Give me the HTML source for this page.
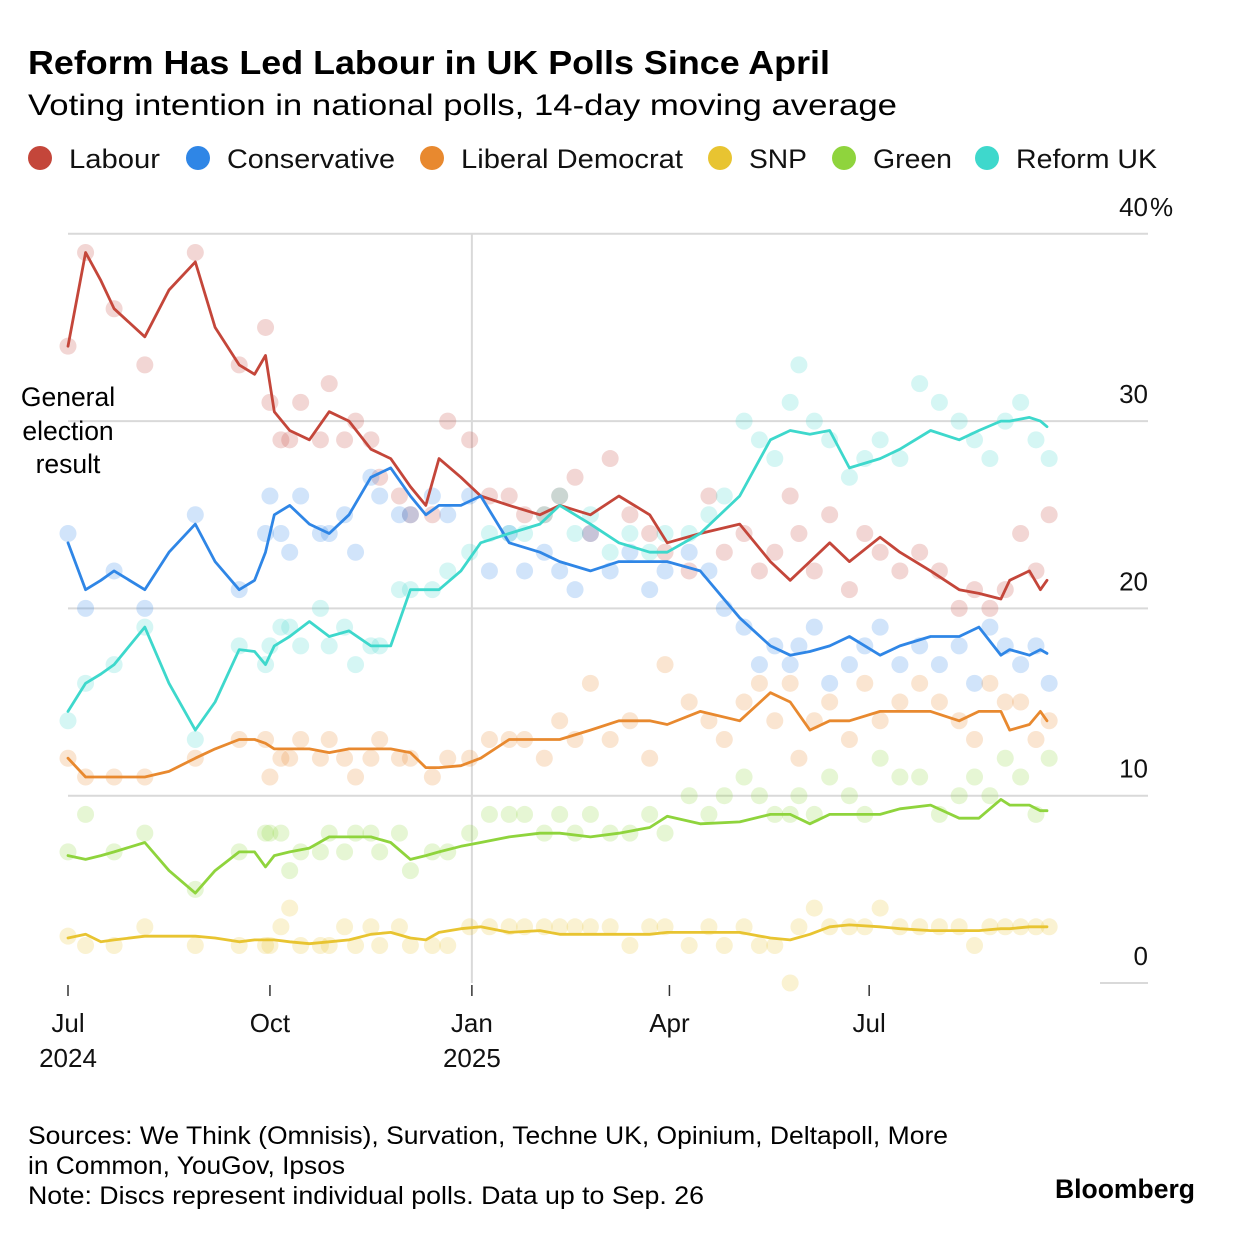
<!DOCTYPE html>
<html><head><meta charset="utf-8"><style>
body{margin:0;background:#fff;}
svg{display:block;font-family:"Liberation Sans",sans-serif;}
</style></head><body>
<svg id="c" width="1235" height="1234" viewBox="0 0 1235 1234">
<text x="28" y="74" font-size="33" font-weight="bold" fill="#000" textLength="802" lengthAdjust="spacingAndGlyphs">Reform Has Led Labour in UK Polls Since April</text>
<text x="28" y="115" font-size="30" fill="#000" textLength="869" lengthAdjust="spacingAndGlyphs">Voting intention in national polls, 14-day moving average</text>
<g id="legend"></g>
<g id="grid"></g>
<g id="dots"></g>
<g id="lines"></g>
<g id="axes"></g>
<text font-size="26.5" text-anchor="middle" fill="#000"><tspan x="68" y="406">General</tspan><tspan x="68" y="440">election</tspan><tspan x="68" y="473">result</tspan></text>
<text font-size="25" fill="#000"><tspan x="28" y="1144" textLength="920" lengthAdjust="spacingAndGlyphs">Sources: We Think (Omnisis), Survation, Techne UK, Opinium, Deltapoll, More</tspan><tspan x="28" y="1174" textLength="317" lengthAdjust="spacingAndGlyphs">in Common, YouGov, Ipsos</tspan><tspan x="28" y="1204" textLength="676" lengthAdjust="spacingAndGlyphs">Note: Discs represent individual polls. Data up to Sep. 26</tspan></text>
<text x="1055" y="1198" font-size="27" font-weight="bold" fill="#000" textLength="140" lengthAdjust="spacingAndGlyphs">Bloomberg</text>
</svg>
<script>
const seriesNames=["Labour","Conservative","Liberal Democrat","SNP","Green","Reform UK"];
const lineDays=[0,8,15,21,35,46,58,67,78,85,90,94,101,110,119,128,138,147,156,163,169,179,188,201,215,224,238,251,265,273,288,306,320,329,338,347,356,370,379,393,406,415,425,429,438,443,446];
const labourLine=[34,39,37.5,36,34.5,37,38.5,35,33,32.5,33.5,30.5,29.5,29,30.5,30,28.5,28,26.5,25.5,28,27,26,25.5,25,25.5,25,26,25,23.5,24,24.5,22.5,21.5,22.5,23.5,22.5,23.8,23,22,21,20.8,20.5,21.5,22,21,21.5];
const conLine=[23.5,21,21.5,22,21,23,24.5,22.5,21,21.5,23,25,25.5,24.5,24,25,27,27.5,26,25,25.5,25.5,26,23.5,23,22.5,22,22.5,22.5,22.5,22,19.5,18,17.5,17.7,18,18.5,17.5,18,18.5,18.5,19,17.5,17.8,17.5,17.8,17.6];
const ldLine=[12,11,11,11,11,11.3,12,12.5,13,13,12.8,12.5,12.5,12.5,12.3,12.5,12.5,12.5,12.3,11.5,11.5,11.6,12,13,13,13,13.5,14,14,13.8,14.5,14,15.5,15,13.5,14,14,14.5,14.5,14.5,14,14.5,14.5,13.5,13.8,14.5,14];
const snpLine=[2.4,2.6,2.2,2.3,2.5,2.5,2.5,2.4,2.2,2.3,2.3,2.3,2.2,2.1,2.2,2.3,2.6,2.7,2.4,2.3,2.7,2.9,3,2.7,2.8,2.6,2.6,2.6,2.6,2.7,2.7,2.7,2.4,2.3,2.6,3,3.1,3,2.9,2.8,2.8,2.8,2.9,2.9,3,3,3];
const greenLine=[6.8,6.6,6.8,7,7.5,6,4.8,6,7,7,6.2,6.8,7,7.2,7.8,7.8,7.8,7.5,6.6,6.8,7,7.3,7.5,7.8,8,8,7.8,8,8.3,8.9,8.5,8.6,9,9,8.5,9,9,9,9.3,9.5,8.8,8.8,9.8,9.5,9.5,9.2,9.2];
const reformLine=[14.5,16,16.5,17,19,16,13.5,15,17.8,17.7,17,18,18.5,19.3,18.5,18.8,18,18,21,21,21,22,23.5,24,24.5,25.5,24.5,23.5,23,23,24,26,29,29.5,29.3,29.5,27.5,28,28.5,29.5,29,29.5,30,30,30.2,30,29.7];
const pollDays=[0,8,21,35,58,78,90,92,97,101,106,115,119,126,131,138,142,151,156,166,173,183,192,201,208,217,224,231,238,247,256,265,272,283,292,299,308,315,322,329,333,340,347,356,363,370,379,388,397,406,413,420,427,434,441,447];
const labourPolls=[34,39,36,33,39,33,35,31,29,29,31,29,32,29,30,29,27,26,25,25,30,29,26,26,25,25,26,27,24,28,25,24,23,22,26,23,24,22,23,26,24,22,25,21,24,23,22,23,22,20,21,20,21,24,22,25];
const conPolls=[24,20,22,20,25,21,24,26,24,23,26,24,24,25,23,27,26,25,25,26,25,26,22,24,22,23,22,21,24,22,23,21,22,23,22,20,19,17,18,17,18,19,16,17,18,19,17,18,17,18,16,19,18,17,18,16];
const ldPolls=[12,11,11,11,12,13,13,11,12,12,13,12,13,12,11,12,13,12,12,11,12,12,13,13,13,12,14,13,16,13,14,12,17,15,14,13,15,16,14,16,12,14,15,13,16,14,15,16,15,14,13,16,15,15,13,14];
const snpPolls=[2.5,2,2,3,2,2,2,2,3,4,2,2,2,3,2,3,2,3,2,2,2,3,3,3,3,3,3,3,3,3,2,3,3,2,3,2,3,2,2,0,3,4,3,3,3,4,3,3,3,3,2,3,3,3,3,3];
const greenPolls=[7,9,7,8,5,7,8,8,8,6,7,7,8,7,8,8,7,8,6,7,7,8,9,9,9,8,9,8,9,8,8,9,8,10,9,10,11,10,9,9,10,9,11,10,9,12,11,11,9,10,11,10,12,11,9,12];
const reformPolls=[14,16,17,19,13,18,17,18,19,19,18,20,18,19,17,18,18,21,21,21,22,23,24,24,24,25,26,24,25,23,24,23,24,24,25,26,30,29,28,31,33,30,29,27,28,29,28,32,31,30,29,28,30,31,29,28];
const yTicks=[0,10,20,30,40];
const yTickLabels=["0","10","20","30","40"];
const xTickDays=[0,92,184,274,365];
const xTickLabels=[["Jul","2024"],["Oct",""],["Jan","2025"],["Apr",""],["Jul",""]];

const colors=["#c4463a","#2f86e6","#e8892f","#e8c431","#8fd43d","#3ed8cc"];
const NS="http://www.w3.org/2000/svg";
const X=d=>68+d*2.195;
const Y=v=>983-v*18.73;
function mk(tag,attrs,parent){const e=document.createElementNS(NS,tag);for(const k in attrs)e.setAttribute(k,attrs[k]);parent.appendChild(e);return e;}
const lg=document.getElementById('legend');
const legX=[40,198,432,720,844,987];
const legW=[91,168,222,58,79,141];
seriesNames.forEach((n,i)=>{
  const c=mk('circle',{cx:legX[i],cy:158,r:12,fill:colors[i]},lg);
  
  
  const t=mk('text',{x:legX[i]+29,y:168,'font-size':27,fill:'#111',textLength:legW[i],lengthAdjust:'spacingAndGlyphs'},lg);
  t.textContent=n;
  
  
});
const gr=document.getElementById('grid');
yTicks.forEach((v,i)=>{
  const l=mk('line',{x1:v===0?1100:68,x2:1148,y1:Y(v),y2:Y(v),stroke:'#d9d9d9','stroke-width':2},gr);
  
  
  const t=mk('text',{x:1148,y:Y(v)-18,'font-size':26,'text-anchor':'end',fill:'#111'},gr);
  t.textContent=yTickLabels[i];
  
  
  if(i===yTicks.length-1){const p=mk('text',{x:1150,y:Y(v)-18,'font-size':26,fill:'#111'},gr);
  p.textContent='%';
  
  }
});
const vl=mk('line',{x1:X(184),x2:X(184),y1:Y(40),y2:Y(0),stroke:'#d9d9d9','stroke-width':2},gr);


const ax=document.getElementById('axes');
xTickDays.forEach((d,i)=>{
  const l=mk('line',{x1:X(d),x2:X(d),y1:985,y2:996,stroke:'#333','stroke-width':1.5},ax);
  
  
  const t=mk('text',{x:X(d),y:1032,'font-size':26,'text-anchor':'middle',fill:'#111'},ax);
  t.textContent=xTickLabels[i][0];
  
  
  if(xTickLabels[i][1]){const t2=mk('text',{x:X(d),y:1067,'font-size':26,'text-anchor':'middle',fill:'#111'},ax);
  t2.textContent=xTickLabels[i][1];
  
  }
});
const polls=[labourPolls,conPolls,ldPolls,snpPolls,greenPolls,reformPolls];
const lines=[labourLine,conLine,ldLine,snpLine,greenLine,reformLine];
const dg=document.getElementById('dots');
polls.forEach((arr,i)=>{
  arr.forEach((v,j)=>{ if(j>=pollDays.length)return;
    const c=mk('circle',{cx:X(pollDays[j]),cy:Y(v),r:8.5,fill:colors[i],'fill-opacity':0.22},dg);
    
    
  });
});
const lgp=document.getElementById('lines');
lines.forEach((arr,i)=>{
  const pts=arr.map((v,j)=>X(lineDays[j]).toFixed(1)+','+Y(v).toFixed(1)).join(' ');
  const p=mk('polyline',{points:pts,fill:'none',stroke:colors[i],'stroke-width':2.8,'stroke-linejoin':'round','stroke-linecap':'round'},lgp);
  
  
});
</script>
</body></html>
